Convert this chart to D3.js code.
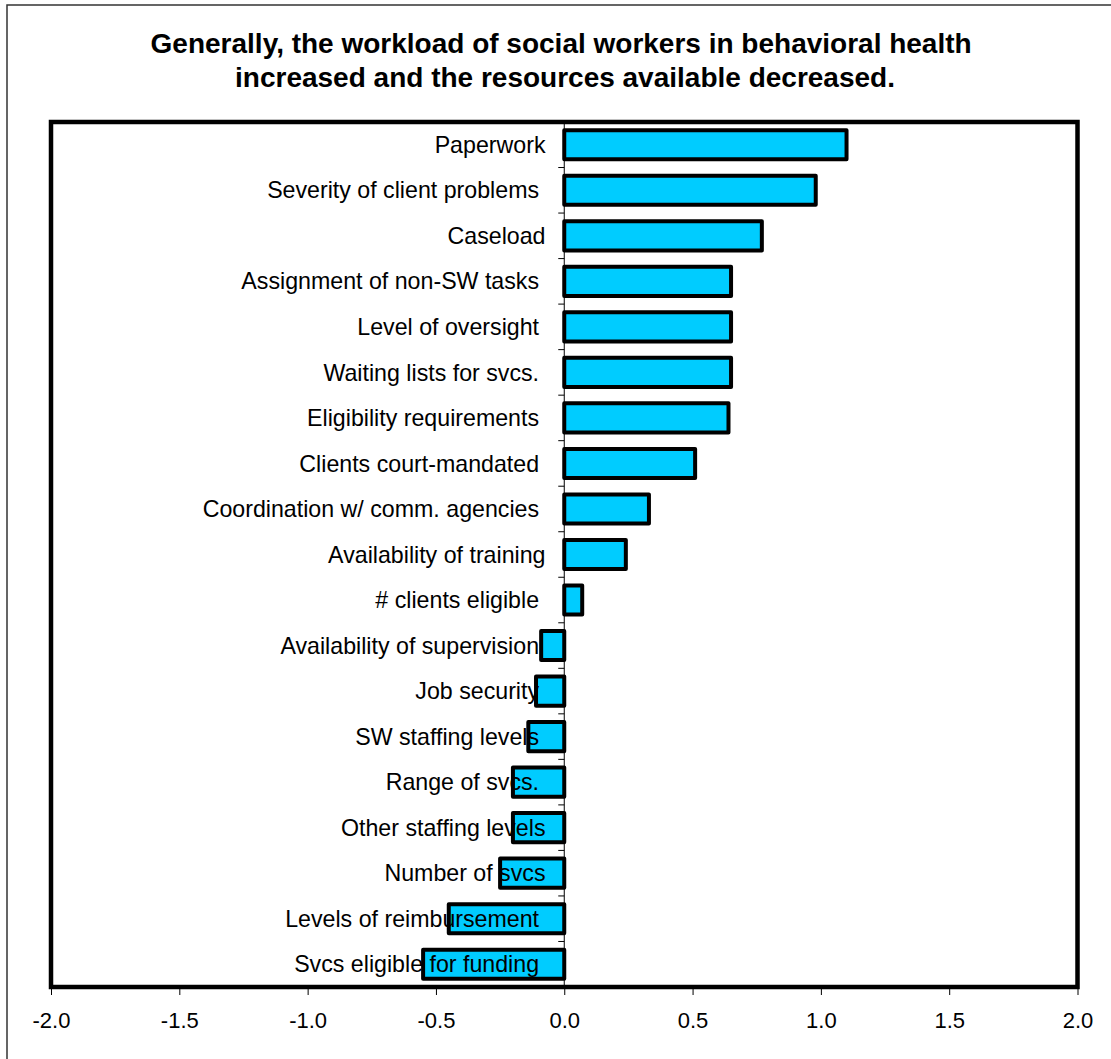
<!DOCTYPE html>
<html>
<head>
<meta charset="utf-8">
<script src="https://cdn.jsdelivr.net/npm/d3@7"></script>
<style>
  html, body { margin: 0; padding: 0; background: #fff; }
  svg { display: block; font-family: "Liberation Sans", Arial, sans-serif; }
</style>
</head>
<body>
<script>
// Survey items (trailing spaces are part of the label text)
const categories = [
  "Paperwork",
  "Severity of client problems ",
  "Caseload",
  "Assignment of non-SW tasks ",
  "Level of oversight ",
  "Waiting lists for svcs. ",
  "Eligibility requirements ",
  "Clients court-mandated ",
  "Coordination w/ comm. agencies ",
  "Availability of training",
  "# clients eligible ",
  "Availability of supervision ",
  "Job security ",
  "SW staffing levels ",
  "Range of svcs. ",
  "Other staffing levels",
  "Number of svcs",
  "Levels of reimbursement ",
  "Svcs eligible for funding "
];
// Mean change score per item
const values = [1.10, 0.98, 0.77, 0.65, 0.65, 0.65, 0.64, 0.51, 0.33, 0.24, 0.07,
                -0.09, -0.11, -0.14, -0.20, -0.20, -0.25, -0.45, -0.55];
const xTicks = [-2.0, -1.5, -1.0, -0.5, 0.0, 0.5, 1.0, 1.5, 2.0];
const titleLines = [
  "Generally, the workload of social workers in behavioral health ",
  "increased and the resources available decreased."
];

const W = 1111, H = 1059;
const plot = { left: 51, right: 1077.5, top: 122, bottom: 987 };

const svg = d3.select("body").append("svg").attr("width", W).attr("height", H);

// outer chart frame
svg.append("rect")
  .attr("x", 7).attr("y", 5).attr("width", W + 20).attr("height", H + 20)
  .attr("fill", "none").attr("stroke", "#333").attr("stroke-width", 1.5);

// title
svg.append("g").selectAll("text").data(titleLines).join("text")
  .attr("x", 565)
  .attr("y", (d, i) => 52.5 + i * 34.5)
  .attr("text-anchor", "middle")
  .attr("font-weight", "bold")
  .attr("font-size", 28)
  .attr("fill", "#000")
  .style("white-space", "pre")
  .text(d => d);

const x = d3.scaleLinear().domain([-2, 2]).range([plot.left, plot.right]);
const y = d3.scaleBand().domain(categories).range([plot.top, plot.bottom])
  .paddingInner(0.36).paddingOuter(0.18);

// bottom axis
const xAxis = d3.axisBottom(x).tickValues(xTicks).tickFormat(d => d.toFixed(1))
  .tickSize(7).tickSizeOuter(0).tickPadding(17);
const gx = svg.append("g").attr("transform", `translate(0,${plot.bottom + 1})`).call(xAxis);
gx.attr("font-size", 22).attr("font-family", "Liberation Sans, Arial, sans-serif");
gx.select(".domain").remove();
gx.selectAll(".tick line").attr("stroke", "#000").attr("stroke-width", 1);
gx.selectAll(".tick text").attr("fill", "#000");

// category axis along zero with ticks at band boundaries
const zeroX = x(0);
svg.append("line")
  .attr("x1", zeroX).attr("x2", zeroX)
  .attr("y1", plot.top).attr("y2", plot.bottom)
  .attr("stroke", "#000").attr("stroke-width", 1);
const bounds = categories.slice(1).map(c => y(c) - y.step() * y.paddingInner() / 2);
svg.append("g").selectAll("line").data(bounds).join("line")
  .attr("x1", zeroX - 6).attr("x2", zeroX)
  .attr("y1", d => d).attr("y2", d => d)
  .attr("stroke", "#000").attr("stroke-width", 1);

// bars
svg.append("g").selectAll("rect").data(values).join("rect")
  .attr("x", d => x(Math.min(0, d)))
  .attr("width", d => Math.abs(x(d) - x(0)))
  .attr("y", (d, i) => y(categories[i]))
  .attr("height", y.bandwidth())
  .attr("fill", "#00CCFF")
  .attr("stroke", "#000")
  .attr("stroke-width", 4)
  .attr("stroke-linejoin", "round");

// category labels, drawn over the bars
svg.append("g").selectAll("text").data(categories).join("text")
  .attr("x", 545.5)
  .attr("y", d => y(d) + y.bandwidth() / 2)
  .attr("dy", "0.35em")
  .attr("text-anchor", "end")
  .attr("font-size", 23.2)
  .attr("fill", "#000")
  .style("white-space", "pre")
  .text(d => d);

// plot area border
svg.append("rect")
  .attr("x", plot.left).attr("y", plot.top)
  .attr("width", plot.right - plot.left).attr("height", plot.bottom - plot.top)
  .attr("fill", "none").attr("stroke", "#000").attr("stroke-width", 4.5);
</script>
</body>
</html>
